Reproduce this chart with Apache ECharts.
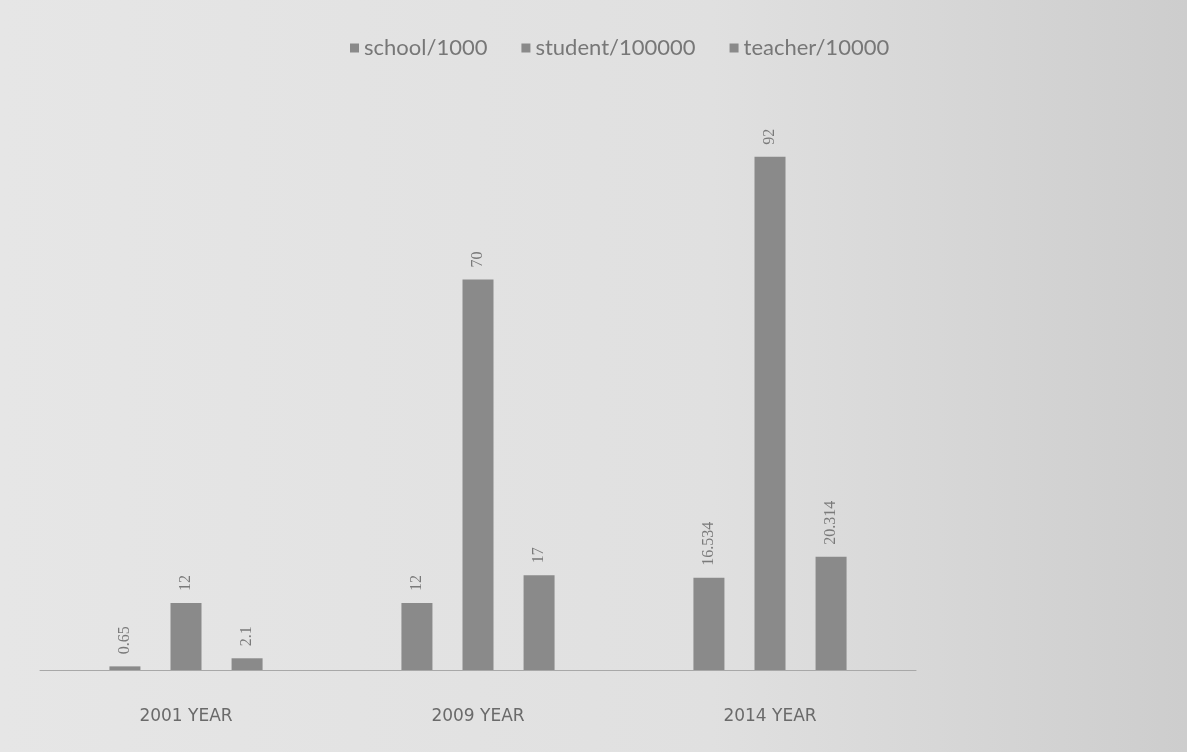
<!DOCTYPE html>
<html>
<head>
<meta charset="utf-8">
<script src="https://cdn.jsdelivr.net/npm/echarts@6/dist/echarts.min.js"></script>
<style>html,body{margin:0;padding:0;}#c{width:1187px;height:752px;}</style>
</head>
<body>
<div id="c"></div>
<script>
const categories = ['2001 YEAR', '2009 YEAR', '2014 YEAR'];
const seriesNames = ['school/1000', 'student/100000', 'teacher/10000'];
const school = [0.65, 12, 16.534];
const student = [12, 70, 92];
const teacher = [2.1, 17, 20.314];

const chart = echarts.init(document.getElementById('c'));
const barColor = '#8a8a8a';
const mk = (name, data) => ({
  name, type: 'bar', data, barWidth: 31, barGap: '97%',
  itemStyle: { color: barColor },
  label: { show: true, position: 'top', rotate: 90, align: 'left', verticalAlign: 'middle', distance: 12,
    color: '#7a7a7a', fontSize: 16, fontFamily: 'Liberation Serif' }
});
chart.setOption({
  backgroundColor: { type: 'linear', x: 0, y: 0, x2: 1, y2: 0, colorStops: [
    { offset: 0, color: '#e6e6e6' }, { offset: 0.6, color: '#e0e0e0' }, { offset: 1, color: '#cdcdcd' }] },
  legend: {
    top: 32, left: 345, itemWidth: 9, itemHeight: 9, itemGap: 34, icon: 'rect',
    textStyle: { fontSize: 22, color: '#777', fontFamily: 'Lato' },
    data: seriesNames
  },
  grid: { left: 40, right: 271, top: 112, bottom: 82 },
  xAxis: {
    type: 'category', data: categories,
    axisLine: { lineStyle: { color: '#a8a8a8', width: 1 } },
    axisTick: { show: false },
    axisLabel: { margin: 38, fontSize: 17, color: '#6a6a6a', fontFamily: 'DejaVu Sans' }
  },
  yAxis: { type: 'value', min: 0, max: 100, show: false, splitLine: { show: false } },
  series: [mk(seriesNames[0], school), mk(seriesNames[1], student), mk(seriesNames[2], teacher)]
});
</script>
</body>
</html>
